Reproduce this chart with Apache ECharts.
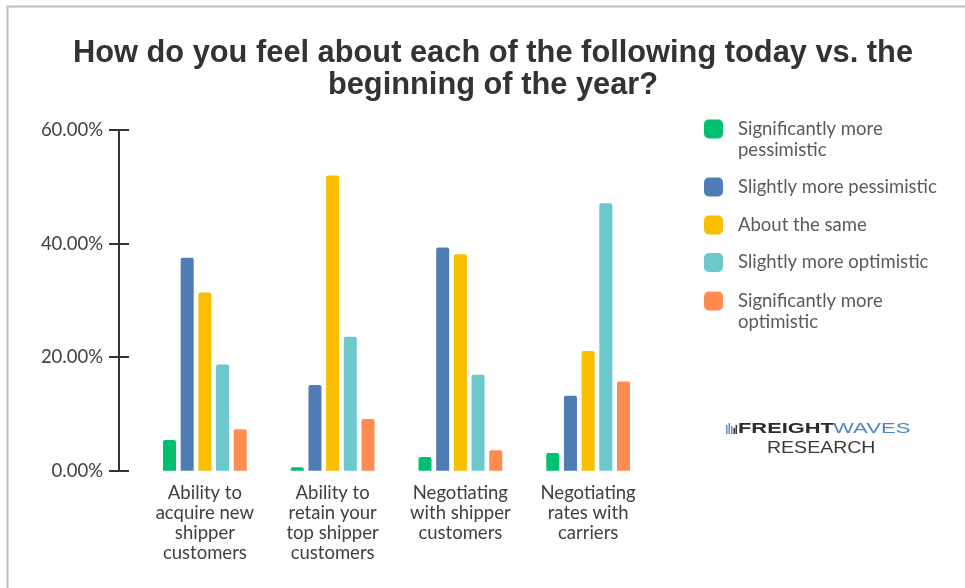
<!DOCTYPE html>
<html>
<head>
<meta charset="utf-8">
<style>
  html, body { margin: 0; padding: 0; background: #ffffff; }
  #chart { width: 965px; height: 588px; }
</style>
<script src="https://cdn.jsdelivr.net/npm/echarts@6/dist/echarts.min.js"></script>
</head>
<body>
<div id="chart"></div>
<script>
// Survey question, response categories and answer shares (percent)
const titleText = 'How do you feel about each of the following today vs. the\nbeginning of the year?';

const categories = [
  'Ability to\nacquire new\nshipper\ncustomers',
  'Ability to\nretain your\ntop shipper\ncustomers',
  'Negotiating\nwith shipper\ncustomers',
  'Negotiating\nrates with\ncarriers'
];

const seriesNames = [
  'Significantly more pessimistic',
  'Slightly more pessimistic',
  'About the same',
  'Slightly more optimistic',
  'Significantly more optimistic'
];

// How each response name wraps in the legend
const legendLines = [
  ['Significantly more', 'pessimistic'],
  ['Slightly more pessimistic'],
  ['About the same'],
  ['Slightly more optimistic'],
  ['Significantly more', 'optimistic']
];

const sigPessimistic    = [5.4, 0.6, 2.4, 3.1];
const slightPessimistic = [37.5, 15.1, 39.3, 13.2];
const aboutSame         = [31.4, 52.0, 38.1, 21.1];
const slightOptimistic  = [18.7, 23.6, 16.9, 47.1];
const sigOptimistic     = [7.3, 9.1, 3.6, 15.7];

const seriesValues = [sigPessimistic, slightPessimistic, aboutSame, slightOptimistic, sigOptimistic];

const yTicks = { min: 0, max: 60, interval: 20 };

// Styling
const palette = ['#00BF6F', '#507CB6', '#F9BE00', '#6BC8CD', '#FF8B4F'];
const legendIconCenters = [130, 188, 226, 263.5, 302];
const legendLineHeight = 21;
const bodyFont = 'Lato, "Open Sans", sans-serif';
const bodySize = 18.5;

const chart = echarts.init(document.getElementById('chart'), null, { renderer: 'canvas' });

const legends = seriesNames.map((name, i) => {
  const lines = legendLines[i].slice();
  if (lines.length > 1) lines.unshift(' '); // keep the swatch level with the first text line
  const h = lines.length * legendLineHeight;
  return {
    data: [name],
    orient: 'vertical',
    left: 704,
    top: legendIconCenters[i] - h / 2,
    padding: 0,
    itemWidth: 19,
    itemHeight: 19,
    icon: 'roundRect',
    selectedMode: false,
    formatter: () => lines.map(l => '{t|' + l + '}').join('\n'),
    textStyle: {
      rich: {
        t: {
          fontFamily: bodyFont,
          fontSize: bodySize,
          color: '#5a5a5a',
          lineHeight: legendLineHeight,
          padding: [0, 0, 0, 10]
        }
      }
    }
  };
});

const series = seriesNames.map((name, i) => ({
  name: name,
  type: 'bar',
  data: seriesValues[i],
  barWidth: 13,
  barGap: '36%',
  itemStyle: { color: palette[i], borderRadius: [2, 2, 0, 0] },
  emphasis: { disabled: true }
}));

const option = {
  backgroundColor: '#ffffff',
  animation: false,
  title: {
    text: titleText,
    left: 493,
    textAlign: 'center',
    top: 38,
    padding: 0,
    textStyle: {
      fontFamily: '"Liberation Sans", Arial, sans-serif',
      fontWeight: 'bold',
      fontSize: 30.8,
      lineHeight: 32,
      color: '#333333'
    }
  },
  legend: legends,
  grid: { left: 141, right: 313, top: 130, bottom: 117.3, containLabel: false },
  xAxis: {
    type: 'category',
    data: categories,
    axisLine: { show: false },
    axisTick: { show: false },
    axisLabel: {
      interval: 0,
      margin: 12,
      fontFamily: bodyFont,
      fontSize: bodySize,
      lineHeight: 20,
      color: '#404040'
    }
  },
  yAxis: [
    {
      type: 'value',
      min: yTicks.min, max: yTicks.max, interval: yTicks.interval,
      position: 'left',
      offset: 22,
      splitLine: { show: false },
      axisLine: { show: true, lineStyle: { color: '#333333', width: 2 } },
      axisTick: { show: true, length: 10, lineStyle: { color: '#333333', width: 2 } },
      axisLabel: {
        margin: 16,
        fontFamily: bodyFont,
        fontSize: bodySize,
        color: '#404040',
        formatter: v => v.toFixed(2) + '%'
      }
    },
    {
      type: 'value',
      min: yTicks.min, max: yTicks.max, interval: yTicks.interval,
      position: 'left',
      offset: 22,
      splitLine: { show: false },
      axisLine: { show: false },
      axisTick: { show: true, inside: true, length: 10, lineStyle: { color: '#333333', width: 2 } },
      axisLabel: { show: false }
    }
  ],
  series: series,
  graphic: [
    // frame lines along the top and left edge
    { type: 'line', shape: { x1: 7, y1: 6.5, x2: 965, y2: 6.5 }, style: { stroke: '#bdbdbd', lineWidth: 2 }, silent: true },
    { type: 'line', shape: { x1: 7.5, y1: 6, x2: 7.5, y2: 588 }, style: { stroke: '#bdbdbd', lineWidth: 2 }, silent: true },
    // FreightWaves Research wordmark
    {
      type: 'group',
      x: 726, y: 423,
      silent: true,
      children: [
        { type: 'rect', shape: { x: 0, y: 2, width: 1.5, height: 9 }, style: { fill: '#5b8fc9' } },
        { type: 'rect', shape: { x: 2.5, y: 0, width: 1.5, height: 11 }, style: { fill: '#5b8fc9' } },
        { type: 'rect', shape: { x: 5, y: 3, width: 1.5, height: 8 }, style: { fill: '#5b8fc9' } },
        { type: 'rect', shape: { x: 7.5, y: 5, width: 1.5, height: 6 }, style: { fill: '#333333' } },
        { type: 'rect', shape: { x: 9.5, y: 2, width: 1.5, height: 9 }, style: { fill: '#333333' } },
        {
          type: 'text', x: 12, y: 5.5, scaleX: 1.41,
          style: { text: 'FREIGHT', fontFamily: '"Liberation Sans", Arial, sans-serif', fontWeight: 'bold', fontSize: 15.5, fill: '#2b2b2b', verticalAlign: 'middle', align: 'left' }
        },
        {
          type: 'text', x: 107, y: 5.5, scaleX: 1.43,
          style: { text: 'WAVES', fontFamily: '"Liberation Sans", Arial, sans-serif', fontSize: 15.5, fill: '#4f86c6', verticalAlign: 'middle', align: 'left' }
        },
        {
          type: 'text', x: 41, y: 25.5, scaleX: 1.22,
          style: { text: 'RESEARCH', fontFamily: '"Liberation Sans", Arial, sans-serif', fontSize: 16, fill: '#3a3a3a', verticalAlign: 'middle', align: 'left' }
        }
      ]
    }
  ]
};

chart.setOption(option);
</script>
</body>
</html>
